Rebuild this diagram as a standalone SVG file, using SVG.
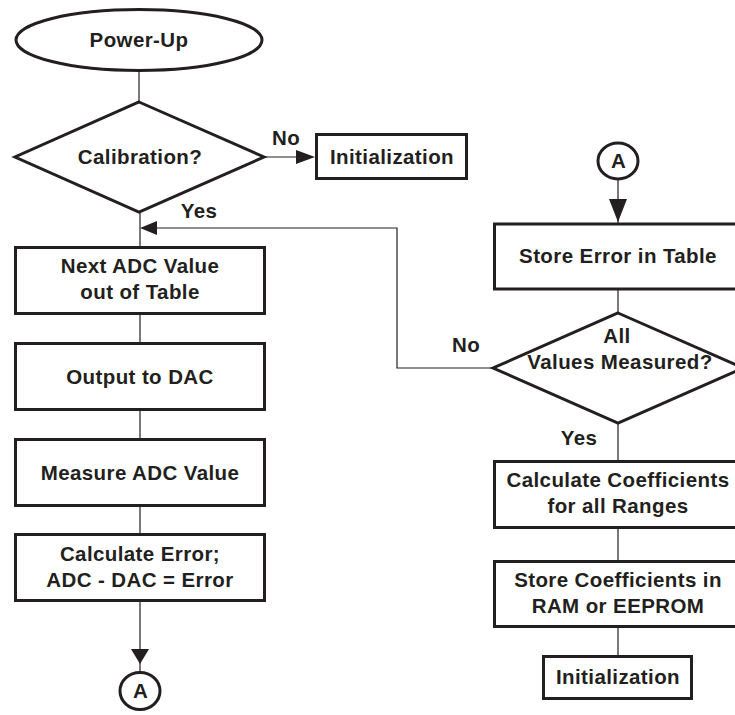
<svg xmlns="http://www.w3.org/2000/svg" width="735" height="715" viewBox="0 0 735 715">
<style>
  .shape { fill: #ffffff; stroke: #231f20; stroke-width: 3; }
  .conn { fill: none; stroke: #231f20; stroke-width: 1.2; }
  .head { fill: #231f20; stroke: none; }
  text { font-family: "Liberation Sans", Arial, sans-serif; font-weight: bold; font-size: 20.5px; letter-spacing: 0.4px; fill: #231f20; text-anchor: middle; }
</style>
<rect x="0" y="0" width="735" height="715" fill="#ffffff"/>

<g id="connectors">
  <line class="conn" x1="139" y1="71" x2="139" y2="102"/>
  <line class="conn" x1="264" y1="157" x2="297" y2="157"/>
  <polygon class="head" points="315,157 296,150 296,164"/>
  <line class="conn" x1="140" y1="212" x2="140" y2="246"/>
  <polyline class="conn" points="493,368 397,368 397,228 156,228"/>
  <polygon class="head" points="140,228 157,221 157,235"/>
  <line class="conn" x1="140" y1="315" x2="140" y2="342"/>
  <line class="conn" x1="140" y1="411" x2="140" y2="438"/>
  <line class="conn" x1="140" y1="507" x2="140" y2="533"/>
  <line class="conn" x1="140" y1="602" x2="140" y2="671"/>
  <polygon class="head" points="140,664 131,649 149,649"/>
  <line class="conn" x1="618" y1="179" x2="618" y2="223"/>
  <polygon class="head" points="618,222 609,199 627,199"/>
  <line class="conn" x1="618" y1="290" x2="618" y2="313"/>
  <line class="conn" x1="618" y1="423" x2="618" y2="460"/>
  <line class="conn" x1="618" y1="529" x2="618" y2="560"/>
  <line class="conn" x1="618" y1="628" x2="618" y2="655"/>
  <text x="286" y="145">No</text>
  <text x="199" y="218">Yes</text>
  <text x="466" y="352">No</text>
  <text x="579" y="445">Yes</text>
</g>

<g id="power-up">
  <ellipse class="shape" cx="139" cy="40" rx="123" ry="30.5"/>
  <text x="139" y="47">Power-Up</text>
</g>

<g id="calibration">
  <polygon class="shape" points="139,102 264,157 139,212 15,157"/>
  <text x="140" y="164">Calibration?</text>
</g>

<g id="initialization-1">
  <rect class="shape" x="316.5" y="134.5" width="150" height="44"/>
  <text x="392" y="164">Initialization</text>
</g>

<g id="next-adc">
  <rect class="shape" x="15.5" y="247.5" width="249" height="66"/>
  <text x="140" y="273">Next ADC Value</text>
  <text x="140" y="299">out of Table</text>
</g>

<g id="output-dac">
  <rect class="shape" x="15.5" y="343.5" width="249" height="66"/>
  <text x="140" y="384">Output to DAC</text>
</g>

<g id="measure-adc">
  <rect class="shape" x="15.5" y="439.5" width="249" height="66"/>
  <text x="140" y="479.5">Measure ADC Value</text>
</g>

<g id="calc-error">
  <rect class="shape" x="15.5" y="534.5" width="249" height="66"/>
  <text x="140" y="560.5">Calculate Error;</text>
  <text x="140" y="587">ADC - DAC = Error</text>
</g>

<g id="connector-a-out">
  <ellipse class="shape" cx="140" cy="691" rx="20" ry="18.5" stroke-width="2.5"/>
  <text x="140.5" y="698">A</text>
</g>

<g id="connector-a-in">
  <ellipse class="shape" cx="618" cy="161" rx="20" ry="18" stroke-width="2.5"/>
  <text x="618.5" y="168">A</text>
</g>

<g id="store-error">
  <rect class="shape" x="494.5" y="224" width="249" height="65"/>
  <text x="618" y="263">Store Error in Table</text>
</g>

<g id="all-values">
  <polygon class="shape" points="618,313 743,368 618,423 493,368"/>
  <text x="617" y="343">All</text>
  <text x="620" y="368.5">Values Measured?</text>
</g>

<g id="calc-coeff">
  <rect class="shape" x="494.5" y="461.5" width="249" height="66"/>
  <text x="618" y="487">Calculate Coefficients</text>
  <text x="618" y="513">for all Ranges</text>
</g>

<g id="store-coeff">
  <rect class="shape" x="494.5" y="561.5" width="249" height="65"/>
  <text x="618" y="586.5">Store Coefficients in</text>
  <text x="618" y="613">RAM or EEPROM</text>
</g>

<g id="initialization-2">
  <rect class="shape" x="543.5" y="656.5" width="148" height="42"/>
  <text x="618" y="684">Initialization</text>
</g>
</svg>
